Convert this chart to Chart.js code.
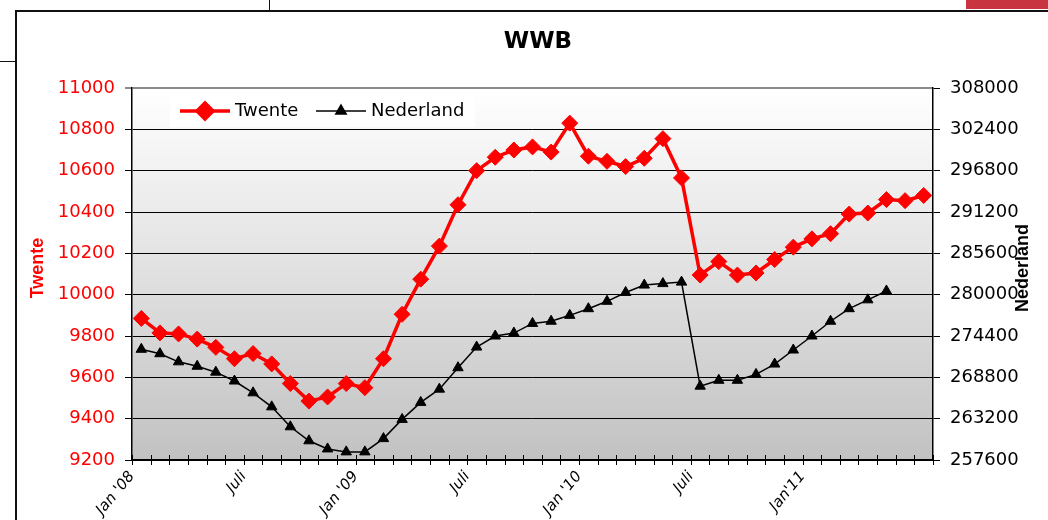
<!DOCTYPE html>
<html>
<head>
<meta charset="utf-8">
<script src="https://cdn.jsdelivr.net/npm/chart.js@4.4.1/dist/chart.umd.min.js"></script>
<style>
    html, body { margin: 0; padding: 0; background: #fff; }
    body { width: 1048px; height: 520px; position: relative; overflow: hidden; }
    .frame { position: absolute; left: 15px; top: 10px; width: 1200px; height: 700px; border-left: 2px solid #111; border-top: 2px solid #111; }
    .line-v { position: absolute; left: 269px; top: 0; width: 1px; height: 10px; background: #111; }
    .line-h { position: absolute; left: 0; top: 61px; width: 15px; height: 1px; background: #111; }
    .red-tab { position: absolute; left: 966px; top: 0; width: 90px; height: 9px; background: #c8343f; }
    #chart { position: absolute; left: 0; top: 0; }
</style>
</head>
<body>
<div class="frame"></div>
<div class="line-v"></div>
<div class="line-h"></div>
<div class="red-tab"></div>
<canvas id="chart" width="1048" height="520"></canvas>
<script>
// Data: monthly, Jan '08 .. Jul '11
const monthCount = 43;
const tickIndexes = [0, 6, 12, 18, 24, 30, 36];
const tickTexts = ["Jan '08", 'Juli', "Jan '09", 'Juli', "Jan '10", 'Juli', "Jan'11"];

const twente = [9885, 9815, 9810, 9785, 9745, 9690, 9715, 9665, 9570, 9485,
    9505, 9570, 9550, 9690, 9905, 10075, 10235, 10435, 10600, 10665,
    10700, 10715, 10690, 10830, 10670, 10645, 10620, 10660, 10755, 10565,
    10095, 10160, 10095, 10105, 10170, 10230, 10270, 10295, 10390, 10395,
    10460, 10455, 10480];

const nederland = [272600, 272000, 270900, 270300, 269500, 268300, 266700, 264800, 262100, 260200,
    259100, 258700, 258700, 260500, 263100, 265400, 267200, 270100, 272900, 274400,
    274800, 276100, 276400, 277200, 278100, 279100, 280300, 281300, 281500, 281700,
    267600, 268400, 268400, 269200, 270600, 272500, 274400, 276400, 278100, 279300,
    280500];

// points sit in the middle of each month slot
const toPoints = arr => arr.map((v, i) => ({ x: i + 0.5, y: v }));

// Background gradient, crossing x ticks, titles and legend
const decorPlugin = {
    id: 'decor',
    beforeDraw(chart) {
        const { ctx, chartArea: a } = chart;
        const g = ctx.createLinearGradient(0, a.top, 0, a.bottom);
        g.addColorStop(0, '#ffffff');
        g.addColorStop(1, '#c2c2c2');
        ctx.save();
        ctx.fillStyle = g;
        ctx.fillRect(a.left, a.top, a.right - a.left, a.bottom - a.top);
        ctx.restore();
    },
    afterDraw(chart) {
        const { ctx, chartArea: a } = chart;
        const xs = chart.scales.x;
        ctx.save();

        // x ticks crossing the axis
        ctx.strokeStyle = '#000';
        ctx.lineWidth = 1;
        for (let i = 0; i <= monthCount; i++) {
            const px = Math.round(xs.getPixelForValue(i)) + 0.5;
            ctx.beginPath();
            ctx.moveTo(px, a.bottom - 5);
            ctx.lineTo(px, a.bottom + 5);
            ctx.stroke();
        }

        // chart title
        ctx.fillStyle = '#000';
        ctx.font = 'bold 23px "DejaVu Sans"';
        ctx.textAlign = 'center';
        ctx.textBaseline = 'middle';
        ctx.fillText('WWB', 538, 42);

        // axis titles, both reading bottom to top
        ctx.font = 'bold 18px "Liberation Sans", Arial';
        ctx.save();
        ctx.translate(38, 268);
        ctx.rotate(-Math.PI / 2);
        ctx.fillStyle = '#ff0000';
        ctx.fillText('Twente', 0, 0);
        ctx.restore();
        ctx.save();
        ctx.translate(1023, 268);
        ctx.rotate(-Math.PI / 2);
        ctx.fillStyle = '#000';
        ctx.fillText('Nederland', 0, 0);
        ctx.restore();

        // legend
        const lx = a.left + 38, ly = a.top + 1;
        ctx.fillStyle = '#fff';
        ctx.fillRect(lx, ly, 305, 38);
        const cy = ly + 22;
        const items = chart.data.datasets;
        const layout = [[lx + 10, 'Twente'], [lx + 146, 'Nederland']];
        items.forEach((ds, k) => {
            const x0 = layout[k][0];
            ctx.strokeStyle = ds.borderColor;
            ctx.lineWidth = ds.borderWidth;
            ctx.beginPath();
            ctx.moveTo(x0, cy);
            ctx.lineTo(x0 + 50, cy);
            ctx.stroke();
            ctx.fillStyle = ds.pointBackgroundColor;
            ctx.strokeStyle = ds.pointBorderColor;
            Chart.helpers.drawPoint(ctx, {
                pointStyle: ds.pointStyle,
                radius: ds.pointRadius,
                rotation: 0,
                borderWidth: 1
            }, x0 + 25, cy);
            ctx.fillStyle = '#000';
            ctx.font = '18px "DejaVu Sans"';
            ctx.textAlign = 'left';
            ctx.fillText(layout[k][1], x0 + 55, cy);
        });

        ctx.restore();
    }
};

const plainNumber = value => String(value);

const ctx = document.getElementById('chart').getContext('2d');
const chart = new Chart(ctx, {
    type: 'line',
    data: {
        datasets: [
            {
                label: 'Twente',
                data: toPoints(twente),
                yAxisID: 'y',
                borderColor: '#ff0000',
                borderWidth: 3.5,
                pointStyle: 'rectRot',
                pointRadius: 8,
                pointBackgroundColor: '#ff0000',
                pointBorderColor: '#ff0000',
                pointBorderWidth: 1,
                tension: 0
            },
            {
                label: 'Nederland',
                data: toPoints(nederland),
                yAxisID: 'y1',
                borderColor: '#000000',
                borderWidth: 1.5,
                pointStyle: 'triangle',
                pointRadius: 6,
                pointBackgroundColor: '#000000',
                pointBorderColor: '#000000',
                pointBorderWidth: 1,
                tension: 0
            }
        ]
    },
    options: {
        responsive: false,
        animation: false,
        layout: { padding: { top: 88, left: 0, right: 0, bottom: 0 } },
        plugins: {
            legend: { display: false },
            title: { display: false },
            tooltip: { enabled: false }
        },
        scales: {
            x: {
                type: 'linear',
                min: 0,
                max: monthCount,
                afterFit: s => { s.height = 60; },
                grid: { display: false },
                border: { display: true, color: '#000', width: 1.5 },
                ticks: {
                    stepSize: 1,
                    autoSkip: false,
                    minRotation: 50,
                    maxRotation: 50,
                    padding: 0,
                    color: '#000',
                    font: { family: '"DejaVu Sans"', size: 15, style: 'italic' },
                    callback: function(value) {
                        const k = tickIndexes.indexOf(value);
                        return k >= 0 ? tickTexts[k] : '';
                    }
                }
            },
            y: {
                position: 'left',
                min: 9200,
                max: 11000,
                afterFit: s => { s.width = 132; },
                border: { display: true, color: '#000', width: 1.5 },
                grid: {
                    color: c => (c.tick && c.tick.value === 11000) ? '#8a8a8a' : '#000',
                    lineWidth: c => (c.tick && c.tick.value === 11000) ? 2 : 1,
                    tickLength: 7
                },
                ticks: {
                    stepSize: 200,
                    padding: 10,
                    color: '#ff0000',
                    font: { family: '"DejaVu Sans"', size: 18 },
                    callback: plainNumber
                }
            },
            y1: {
                position: 'right',
                min: 257600,
                max: 308000,
                afterFit: s => { s.width = 115; },
                border: { display: true, color: '#000', width: 1.5 },
                grid: { drawOnChartArea: false, color: '#000', tickLength: 7 },
                ticks: {
                    stepSize: 5600,
                    padding: 10,
                    color: '#000',
                    font: { family: '"DejaVu Sans"', size: 18 },
                    callback: plainNumber
                }
            }
        }
    },
    plugins: [decorPlugin]
});
</script>
</body>
</html>
